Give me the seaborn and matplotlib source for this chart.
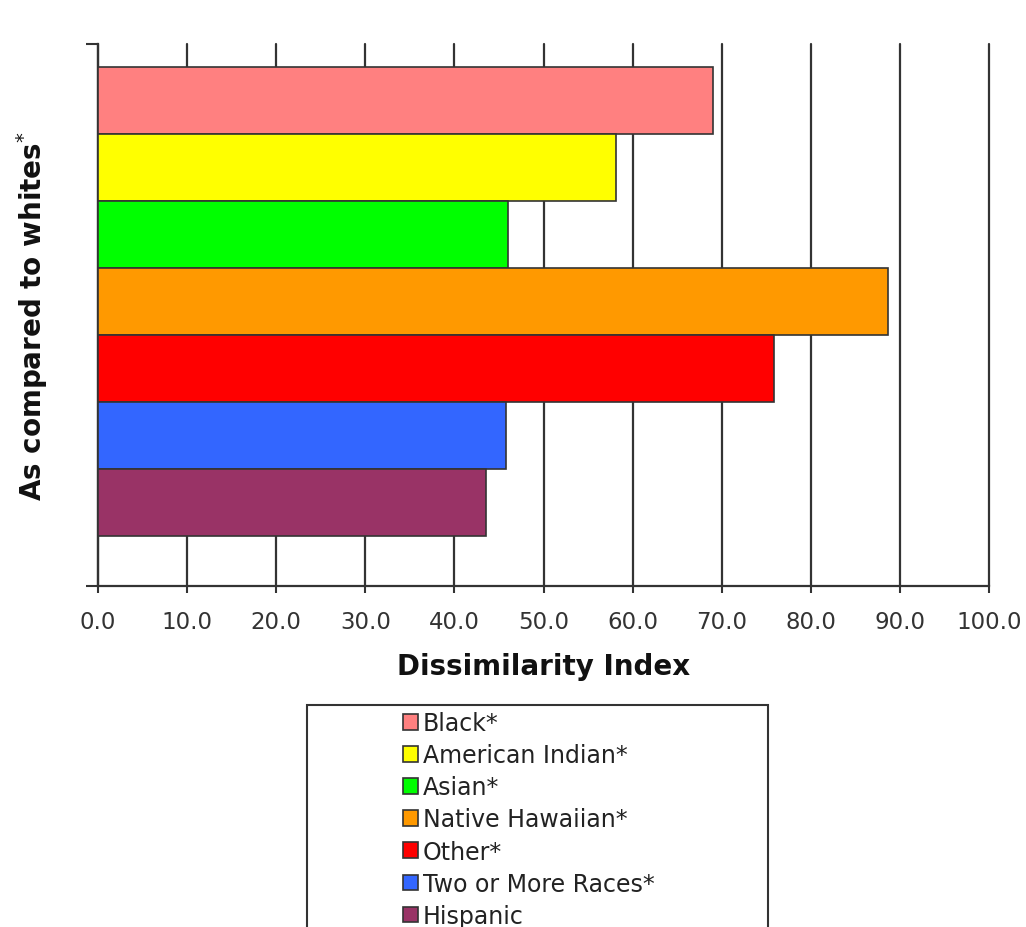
import matplotlib
matplotlib.use("Agg")
import matplotlib.pyplot as plt
from matplotlib.patches import Rectangle, Patch
import seaborn as sns
import pandas as pd

groups = ["Black*", "American Indian*", "Asian*", "Native Hawaiian*",
          "Other*", "Two or More Races*", "Hispanic"]
index_values = [69.0, 58.1, 46.0, 88.7, 75.9, 45.8, 43.5]
colors = ["#FF8080", "#FFFF00", "#00FF00", "#FF9900",
          "#FF0000", "#3366FF", "#993366"]
x_ticks = [0, 10, 20, 30, 40, 50, 60, 70, 80, 90, 100]

df = pd.DataFrame({"group": groups, "value": index_values})

sns.set_theme(style="white")
plt.rcParams["font.family"] = ["DejaVu Sans"]

fig = plt.figure(figsize=(10.26, 9.28), dpi=100)
ax = fig.add_axes([98 / 1026, 1 - 587 / 928, (989 - 98) / 1026, (587 - 45) / 928])

sns.barplot(data=df, x="value", y="group", hue="group", palette=colors,
            saturation=1, width=1.0, dodge=False, legend=False,
            edgecolor="#333333", linewidth=1.2, ax=ax, zorder=3)

y_lo, y_hi = 7.246, -0.843
ax.set_ylim(y_lo, y_hi)
ax.set_xlim(0, 100)
ax.set_xticks(x_ticks)
ax.set_xticklabels([f"{t:.1f}" for t in x_ticks], fontsize=16.5, color="#333333")
ax.set_yticks([y_hi, y_lo])
ax.set_yticklabels(["", ""])
ax.tick_params(axis="y", direction="out", length=9, width=1.5, color="#333333", left=True)
ax.tick_params(axis="x", direction="out", length=5, width=1.5, color="#333333",
               bottom=True, pad=12)

ax.grid(axis="x", color="#333333", linewidth=1.6, zorder=0)
for gl in ax.get_xgridlines():
    gl.set_clip_on(False)
ax.set_axisbelow(True)
for s in ["top", "right"]:
    ax.spines[s].set_visible(False)
for s in ["left", "bottom"]:
    ax.spines[s].set_color("#333333")
    ax.spines[s].set_linewidth(1.6)

ax.set_xlabel("Dissimilarity Index", fontsize=20, fontweight="bold", labelpad=14,
              color="#111111")
ax.set_ylabel(r"As compared to whites$^{*}$", fontsize=20, fontweight="bold",
              labelpad=22, color="#111111")

# legend frame
fig.patches.append(Rectangle((307 / 1026, -0.01), (768 - 307) / 1026, 0.01 + 1 - 706 / 928,
                             transform=fig.transFigure, facecolor="white",
                             edgecolor="#333333", linewidth=1.5, zorder=1))
handles = [Patch(facecolor=c, edgecolor="#333333", linewidth=1.2) for c in colors]
leg = fig.legend(handles, groups, loc="upper left",
                 bbox_to_anchor=(403 / 1026, 1 - 712 / 928), frameon=False,
                 fontsize=17, handlelength=0.65, handleheight=0.65,
                 handletextpad=0.2, labelspacing=0.345, borderpad=0.0,
                 borderaxespad=0.0, labelcolor="#222222")

fig.savefig("out.png", dpi=100, facecolor="white")
